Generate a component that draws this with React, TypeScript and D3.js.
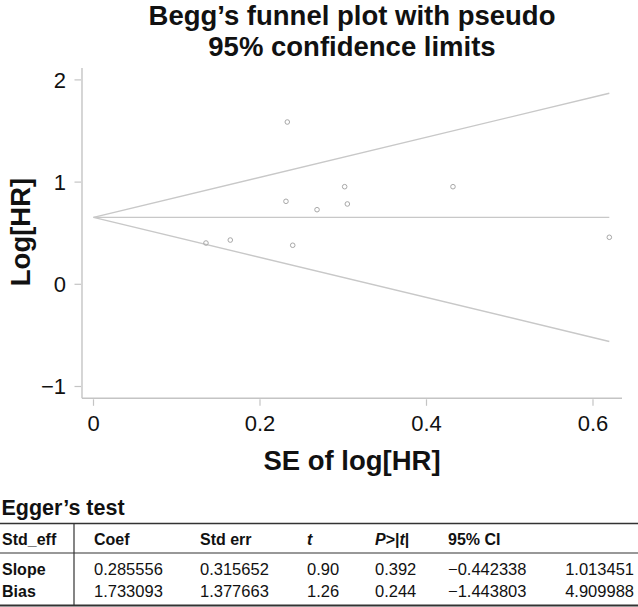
import React from "react";
import * as d3 from "d3";

// ---- data ----
const studySE: number[] = [0.2328, 0.2312, 0.2685, 0.1351, 0.1643, 0.2393, 0.3017, 0.3049, 0.4318, 0.6196];
const studyLogHR: number[] = [1.588, 0.812, 0.730, 0.404, 0.433, 0.382, 0.955, 0.786, 0.955, 0.460];
const pooledLogHR = 0.655;
const xTicks: number[] = [0, 0.2, 0.4, 0.6];
const yTicks: number[] = [-1, 0, 1, 2];
const xTickLabels: string[] = ["0", "0.2", "0.4", "0.6"];
const yTickLabels: string[] = ["\u22121", "0", "1", "2"];

const tableHeader: string[] = ["Std_eff", "Coef", "Std err", "t", "P>|t|", "95% CI"];
const rowLabels: string[] = ["Slope", "Bias"];
const coefVals: string[] = ["0.285556", "1.733093"];
const stdErrVals: string[] = ["0.315652", "1.377663"];
const tVals: string[] = ["0.90", "1.26"];
const pVals: string[] = ["0.392", "0.244"];
const ciLow: string[] = ["\u22120.442338", "\u22121.443803"];
const ciHigh: string[] = ["1.013451", "4.909988"];

const FONT = "'Liberation Sans', Arial, Helvetica, sans-serif";
const AXIS_GRAY = "#c4c4c4";
const LINE_GRAY = "#c8c8c8";
const PT_GRAY = "#a8a8a8";

export default function App() {
  const W = 638;
  const H = 607;
  const x = d3.scaleLinear().domain([0, 0.6]).range([93.5, 593]);
  const y = d3.scaleLinear().domain([0, 1]).range([284.3, 182.1]);
  const axisLeftX = 82;
  const axisBottomY = 398.3;
  const axisTop = 68;
  const axisRight = 622;
  const seMax = d3.max(studySE) as number;
  const seGrid = [0, seMax];
  const line = d3
    .line<number>()
    .x((d) => x(d))
    .y((d) => d);

  const upper = d3.line<number>().x((d) => x(d)).y((d) => y(pooledLogHR + 1.96 * d))(seGrid) as string;
  const lower = d3.line<number>().x((d) => x(d)).y((d) => y(pooledLogHR - 1.96 * d))(seGrid) as string;
  const center = d3.line<number>().x((d) => x(d)).y(() => y(pooledLogHR))(seGrid) as string;
  void line;

  const titleCx = (axisLeftX + axisRight) / 2;

  // table layout
  const colX = [2, 94, 200, 307, 375, 448];
  const tTop = 523.5;
  const tHeadRule = 553;
  const tBottom = 605.5;
  const headBase = 545;
  const rowBase = [575, 596.5];

  return (
    <svg
      width={W}
      height={H}
      style={{ position: "absolute", left: 0, top: 0, background: "#fff" }}
      fontFamily={FONT}
    >
      <rect x={0} y={0} width={W} height={H} fill="#fff" />
      {/* title */}
      <text x={titleCx} y={25} textAnchor="middle" fontSize={27.5} fontWeight="bold" fill="#111">
        Begg’s funnel plot with pseudo
      </text>
      <text x={titleCx} y={56} textAnchor="middle" fontSize={27.5} fontWeight="bold" fill="#111">
        95% confidence limits
      </text>

      {/* axes */}
      <line x1={axisLeftX} x2={axisLeftX} y1={axisTop} y2={axisBottomY} stroke={AXIS_GRAY} strokeWidth={1.4} />
      <line x1={axisLeftX} x2={axisRight} y1={axisBottomY} y2={axisBottomY} stroke={AXIS_GRAY} strokeWidth={1.4} />
      {yTicks.map((t, i) => (
        <g key={"yt" + i}>
          <line x1={axisLeftX - 7.5} x2={axisLeftX - 1} y1={y(t)} y2={y(t)} stroke={AXIS_GRAY} strokeWidth={1.2} />
          <text x={66} y={y(t) + 7.8} textAnchor="end" fontSize={22} fill="#111">
            {yTickLabels[i]}
          </text>
        </g>
      ))}
      {xTicks.map((t, i) => (
        <g key={"xt" + i}>
          <line x1={x(t)} x2={x(t)} y1={axisBottomY + 1} y2={axisBottomY + 7.5} stroke={AXIS_GRAY} strokeWidth={1.2} />
          <text x={x(t)} y={431} textAnchor="middle" fontSize={22} fill="#111">
            {xTickLabels[i]}
          </text>
        </g>
      ))}
      <text x={titleCx} y={469.5} textAnchor="middle" fontSize={27.5} fontWeight="bold" fill="#111">
        SE of log[HR]
      </text>
      <text
        transform={`translate(29.5,${232}) rotate(-90)`}
        textAnchor="middle"
        fontSize={27.5}
        fontWeight="bold"
        fill="#111"
      >
        Log[HR]
      </text>

      {/* funnel */}
      <path d={upper} stroke={LINE_GRAY} strokeWidth={1.4} fill="none" />
      <path d={lower} stroke={LINE_GRAY} strokeWidth={1.4} fill="none" />
      <path d={center} stroke={LINE_GRAY} strokeWidth={1.4} fill="none" />
      {studySE.map((s, i) => (
        <circle key={"p" + i} cx={x(s)} cy={y(studyLogHR[i])} r={2.3} fill="none" stroke={PT_GRAY} strokeWidth={1} />
      ))}

      {/* Egger's test table */}
      <text x={1.5} y={514.5} fontSize={21.5} fontWeight="bold" fill="#111">
        Egger’s test
      </text>
      <line x1={0} x2={W} y1={tTop} y2={tTop} stroke="#333" strokeWidth={1.6} />
      <line x1={0} x2={W} y1={tHeadRule} y2={tHeadRule} stroke="#333" strokeWidth={1.2} />
      <line x1={0} x2={W} y1={tBottom} y2={tBottom} stroke="#333" strokeWidth={2} />
      <line x1={74} x2={74} y1={tTop} y2={tBottom} stroke="#333" strokeWidth={1.2} />

      <g fontSize={16} fontWeight="bold" fill="#111">
        <text x={colX[0]} y={headBase}>{tableHeader[0]}</text>
        <text x={colX[1]} y={headBase}>{tableHeader[1]}</text>
        <text x={colX[2]} y={headBase}>{tableHeader[2]}</text>
        <text x={colX[3]} y={headBase} fontStyle="italic">{tableHeader[3]}</text>
        <text x={colX[4]} y={headBase}>
          <tspan fontStyle="italic">P</tspan>
          <tspan>{">|"}</tspan>
          <tspan fontStyle="italic">t</tspan>
          <tspan>{"|"}</tspan>
        </text>
        <text x={colX[5]} y={headBase}>{tableHeader[5]}</text>
      </g>
      {rowLabels.map((r, i) => (
        <g key={"row" + i} fill="#111">
          <text x={colX[0]} y={rowBase[i]} fontSize={16} fontWeight="bold">{r}</text>
          <text x={colX[1]} y={rowBase[i]} fontSize={16.5}>{coefVals[i]}</text>
          <text x={colX[2]} y={rowBase[i]} fontSize={16.5}>{stdErrVals[i]}</text>
          <text x={colX[3]} y={rowBase[i]} fontSize={16.5}>{tVals[i]}</text>
          <text x={colX[4]} y={rowBase[i]} fontSize={16.5}>{pVals[i]}</text>
          <text x={colX[5]} y={rowBase[i]} fontSize={16.5}>{ciLow[i]}</text>
          <text x={634} y={rowBase[i]} fontSize={16.5} textAnchor="end">{ciHigh[i]}</text>
        </g>
      ))}
    </svg>
  );
}
